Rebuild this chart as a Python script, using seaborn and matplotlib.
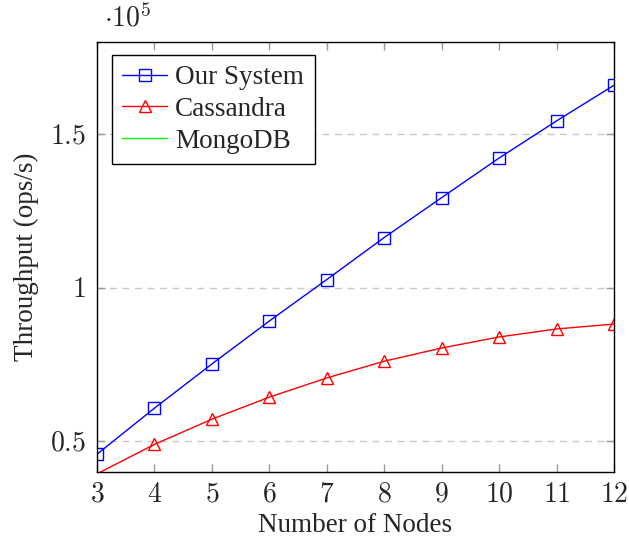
import matplotlib
matplotlib.use("Agg")
import matplotlib.pyplot as plt
import matplotlib.ticker as mticker
import pandas as pd
import seaborn as sns

# data (throughput in ops/s)
nodes = [3, 4, 5, 6, 7, 8, 9, 10, 11, 12]
our_system = [45700, 60700, 75100, 89100, 102600, 116300, 129300, 142200, 154300, 165900]
cassandra = [39300, 48900, 57100, 64300, 70550, 76000, 80300, 83900, 86500, 88100]
mongodb = []  # legend entry only, no points drawn

ymin, ymax = 40000, 180000

sns.set_style("ticks")
plt.rcParams["font.family"] = ["Liberation Serif", "DejaVu Serif"]
plt.rcParams["mathtext.fontset"] = "cm"

df = pd.DataFrame({"nodes": nodes, "Our System": our_system, "Cassandra": cassandra})

fig = plt.figure(figsize=(6.29, 5.41), dpi=100)
ax = fig.add_axes([0.1542, 0.1281, 0.8220, 0.7943])

blue = (0, 0, 1)
red = (1, 0, 0)
green = (0, 1, 0)

# only mark points inside the visible range, like pgfplots
mask_our = [v >= ymin for v in our_system]
mask_cas = [v >= ymin for v in cassandra]

sns.lineplot(data=df, x="nodes", y="Our System", ax=ax, color=blue, lw=1.0,
             marker="s", markersize=8, markerfacecolor="none", markeredgecolor=blue,
             markeredgewidth=1.0, markevery=mask_our, label="Our System")
sns.lineplot(data=df, x="nodes", y="Cassandra", ax=ax, color=red, lw=1.0,
             marker="^", markersize=8, markerfacecolor="none", markeredgecolor=red,
             markeredgewidth=1.0, markevery=mask_cas, label="Cassandra")
ax.plot(mongodb, mongodb, color=green, lw=1.0, label="MongoDB")

ax.set_xlim(3, 12)
ax.set_ylim(ymin, ymax)
ax.set_xticks(nodes)
ax.set_yticks([50000, 100000, 150000])
ax.xaxis.set_major_formatter(mticker.FuncFormatter(lambda v, p: f"${v:g}$"))
ax.yaxis.set_major_formatter(mticker.FuncFormatter(lambda v, p: f"${v / 1e5:g}$"))

ax.yaxis.grid(True, linestyle=(0, (5, 4)), color="#c8c8c8", lw=1.0)
ax.xaxis.grid(False)
ax.set_axisbelow(True)

ax.tick_params(direction="in", length=6, width=1.0, color="#999999",
               top=True, right=True, labelsize=20, pad=8)
for s in ax.spines.values():
    s.set_color("black")
    s.set_linewidth(1.0)

ax.set_xlabel("Number of Nodes", fontsize=19.5, labelpad=4)
ax.set_ylabel("Throughput (ops/s)", fontsize=19.5, labelpad=8)

ax.text(0.014, 1.035, r"$\cdot 10^5$", transform=ax.transAxes, ha="left",
        va="baseline", fontsize=20)

leg = ax.legend(loc="upper left", bbox_to_anchor=(0.029, 0.970), borderaxespad=0,
                frameon=True, fancybox=False, edgecolor="black", framealpha=1,
                fontsize=19.5, handlelength=1.66, borderpad=0.38, labelspacing=0.25,
                handletextpad=0.3)
leg.get_frame().set_linewidth(1.0)

fig.savefig("out.png", dpi=100)
